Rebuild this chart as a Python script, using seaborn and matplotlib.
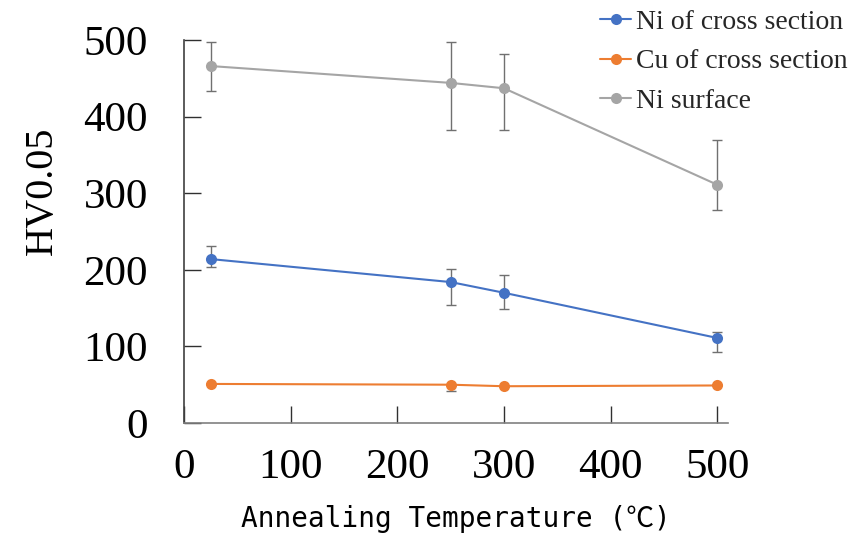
import numpy as np
import pandas as pd
import matplotlib
matplotlib.use("Agg")
import matplotlib.pyplot as plt
import seaborn as sns

temps = [25, 250, 300, 500]
series_names = ["Ni of cross section", "Cu of cross section", "Ni surface"]
ni_cross = [214, 184, 170, 111]
ni_cross_lo = [204, 154, 149, 93]
ni_cross_hi = [231, 201, 193, 119]
cu_cross = [51, 50, 48, 49]
cu_cross_lo = [51, 42, 48, 49]
cu_cross_hi = [51, 50, 48, 49]
ni_surf = [466, 444, 437, 311]
ni_surf_lo = [433, 382, 382, 278]
ni_surf_hi = [497, 497, 482, 370]
colors = ["#4472C4", "#ED7D31", "#A5A5A5"]
x_ticks = [0, 100, 200, 300, 400, 500]
y_ticks = [0, 100, 200, 300, 400, 500]

sns.set_theme(style="white")
plt.rcParams["font.family"] = ["Liberation Serif", "DejaVu Serif"]

vals = [ni_cross, cu_cross, ni_surf]
los = [ni_cross_lo, cu_cross_lo, ni_surf_lo]
his = [ni_cross_hi, cu_cross_hi, ni_surf_hi]
df = pd.DataFrame({
    "temp": temps * 3,
    "hv": ni_cross + cu_cross + ni_surf,
    "series": sum([[n] * len(temps) for n in series_names], []),
})

fig = plt.figure(figsize=(8.53, 5.39), dpi=100)
ax = fig.add_axes([184 / 853, 1 - 423 / 539, (728 - 184) / 853, (423 - 40) / 539])

for v, lo, hi in zip(vals, los, his):
    v = np.array(v); lo = np.array(lo); hi = np.array(hi)
    ax.errorbar(temps, v, yerr=[v - lo, hi - v], fmt="none", ecolor="#707070",
                elinewidth=1.0, capsize=3.5, capthick=1.0, zorder=1)

sns.lineplot(data=df, x="temp", y="hv", hue="series", hue_order=series_names,
             palette=colors, marker="o", markersize=8, markeredgewidth=0,
             linewidth=1.5, ax=ax, zorder=3, legend=True)

ax.set_xlim(0, 510)
ax.set_ylim(0, 500)
ax.set_xticks(x_ticks)
ax.set_yticks(y_ticks)
ax.tick_params(axis="both", direction="in", length=12, width=1.0, color="#303030",
               labelsize=31, labelcolor="black", bottom=True, left=True)
ax.tick_params(axis="x", pad=18)
ax.tick_params(axis="y", pad=26)
for lab in ax.get_xticklabels() + ax.get_yticklabels():
    lab.set_family(["Liberation Serif"])
for s in ["top", "right"]:
    ax.spines[s].set_visible(False)
ax.spines["left"].set_color("#404040")
ax.spines["bottom"].set_color("#808080")
ax.spines["left"].set_linewidth(1.2)
ax.spines["bottom"].set_linewidth(1.2)

ax.set_ylabel("")
ax.set_xlabel("")
fig.text(42 / 853, 1 - 191 / 539, "HV0.05", rotation=90, ha="center", va="center",
         fontsize=29, color="black", family=["Liberation Serif"])
fig.text(456 / 853, 1 - 519 / 539, "Annealing Temperature (℃)", ha="center", va="center",
         fontsize=20, color="black", family=["DejaVu Sans Mono", "Noto Sans CJK JP", "DejaVu Sans"])

h, l = ax.get_legend_handles_labels()
ax.get_legend().remove()
fig.legend(h, l, loc="upper left", bbox_to_anchor=(594 / 853, 1 - 4 / 539),
           frameon=False, handlelength=1.15, handletextpad=0.15,
           labelspacing=0.5, borderaxespad=0, borderpad=0.2,
           prop={"family": "Liberation Serif", "size": 20})

fig.savefig("out.png", dpi=100)
